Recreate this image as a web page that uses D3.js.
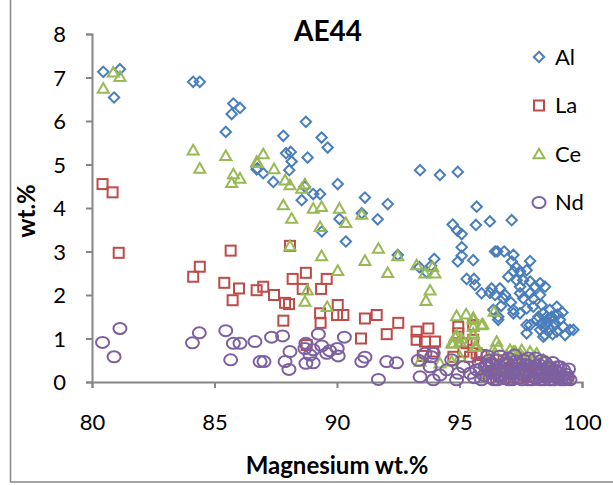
<!DOCTYPE html>
<html>
<head>
<meta charset="utf-8">
<script src="https://cdn.jsdelivr.net/npm/d3@7"></script>
<style>
  html, body { margin: 0; padding: 0; background: #fff; }
  svg { display: block; }
</style>
</head>
<body>
<svg id="chart" width="613" height="485"></svg>
<script>
// ---- Data (Magnesium wt.%, element wt.%) ----
const chartTitle = "AE44";
const xTicks = [80, 85, 90, 95, 100];
const yTicks = [0, 1, 2, 3, 4, 5, 6, 7, 8];
const seriesNames = ["Al", "La", "Ce", "Nd"];

const alData = [
  [80.46,7.13],[81.14,7.19],[80.9,6.54],[84.13,6.9],[84.4,6.9],[85.77,6.4],[86.04,6.3],[85.7,6.16],
  [85.46,5.75],[86.72,4.89],[88.73,5.98],[87.81,5.66],[89.37,5.62],[89.62,5.39],[87.92,5.26],[88.11,5.29],
  [88.8,5.16],[88.15,5.07],[88.05,4.87],[86.75,4.91],[86.99,4.8],[87.4,4.6],[90.03,4.55],[88.69,4.49],
  [89.03,4.32],[89.31,4.32],[88.56,4.18],[91.14,4.24],[91.01,3.88],[90.1,3.75],[89.38,3.46],[90.36,3.23],
  [92.07,4.09],[91.66,3.74],[92.48,2.92],[93.39,4.87],[94.2,4.76],[94.93,4.83],[95.7,4.03],[94.72,3.62],
  [94.91,3.48],[95.09,3.4],[95.67,3.61],[95.09,3.1],[94.93,2.77],[95.56,2.8],[95.29,2.37],[95.59,2.37],
  [93.97,2.83],[93.66,2.52],[93.84,2.67],[93.36,2.64],[96.24,3.69],[97.13,3.72],[95.09,2.9],[96.45,3.0],
  [96.54,3.0],[96.82,3.0],[97.2,2.92],[97.13,2.77],[97.88,2.78],[97.31,2.64],[97.47,2.54],[97.2,2.54],
  [96.99,2.42],[97.74,2.57],[95.63,2.23],[97.33,2.34],[97.6,2.34],[97.47,2.19],[97.88,2.31],[98.08,2.19],
  [98.29,2.27],[98.49,2.19],[95.9,2.04],[96.31,2.15],[96.65,2.15],[96.45,2.0],[96.86,2.0],[96.79,1.92],
  [97.47,2.04],[97.6,1.92],[97.88,2.04],[98.01,1.92],[98.29,2.0],[96.38,1.66],[97.2,1.66],[97.47,1.58],
  [96.58,1.5],[97.74,1.69],[98.01,1.73],[98.35,1.77],[98.97,1.73],[97.74,1.31],[98.15,1.43],[98.42,1.58],
  [98.56,1.35],[98.76,1.5],[99.1,1.43],[99.24,1.27],[99.51,1.2],[99.31,1.08],[98.83,1.27],[98.49,1.08],
  [98.29,1.2],[98.69,1.2],[98.97,1.16],[98.56,1.5],[98.35,1.35],[98.69,1.66],[98.22,1.5],[99.65,1.2],
  [97.88,1.31],[98.42,1.04],[97.74,1.12],[98.6,1.4],[98.9,1.35],[98.7,1.45],[99.0,1.55],[98.45,1.25],
  [98.8,1.1],[99.2,1.6],[97.1,1.83],[96.7,1.75],[96.24,2.05],[96.58,1.43],[97.2,1.58]
];

const laData = [
  [80.43,4.55],[80.84,4.36],[81.09,2.97],[84.13,2.42],[84.4,2.65],[85.66,3.02],[85.4,2.28],[86.0,2.15],
  [85.74,1.88],[86.72,2.11],[88.08,3.13],[86.99,2.19],[87.43,2.0],[88.19,2.37],[88.73,2.51],[89.58,2.37],
  [88.6,2.14],[89.35,2.14],[87.88,1.82],[88.04,1.79],[90.03,1.77],[89.31,1.58],[89.33,1.36],[90.26,1.54],
  [90.0,1.54],[87.81,1.41],[91.14,1.46],[90.98,1.0],[88.76,0.85],[91.62,1.54],[92.5,1.36],[92.03,1.1],
  [93.25,1.16],[93.73,1.23],[93.25,0.97],[94.0,0.93],[93.59,0.93],[93.93,0.7],[94.95,1.27],[95.56,1.31],
  [94.95,1.12],[95.29,0.89],[95.56,0.97],[94.75,0.58],[95.16,0.7],[95.43,0.58],[95.7,0.66],[95.9,0.62],
  [93.5,0.6],[98.69,0.28],[99.44,0.08],[96.2,0.45],[96.5,0.35],[96.8,0.5],[97.0,0.3],[97.3,0.4],
  [97.6,0.2],[97.9,0.35],[98.2,0.25],[98.5,0.15],[98.8,0.2],[99.1,0.1],[99.3,0.05],[96.1,0.2],
  [96.6,0.15],[97.2,0.1],[97.8,0.12],[98.3,0.05]
];

const ceData = [
  [80.46,6.75],[80.87,7.12],[81.14,7.02],[84.13,5.33],[84.4,4.91],[85.46,5.2],[85.77,4.78],[86.04,4.68],
  [85.7,4.58],[86.72,5.06],[86.99,5.24],[86.75,5.04],[87.43,4.9],[87.88,4.64],[88.08,4.53],[88.69,4.55],
  [88.56,4.45],[87.81,4.07],[89.03,3.99],[89.37,4.03],[90.1,3.99],[88.15,3.76],[90.36,3.66],[91.01,3.85],
  [89.31,3.57],[88.08,3.13],[89.37,2.9],[90.03,2.56],[91.14,2.79],[88.79,2.11],[88.69,1.85],[89.6,1.73],
  [91.69,3.07],[92.48,2.9],[92.07,2.51],[93.25,2.69],[93.59,2.5],[94.0,2.5],[93.8,2.11],[93.63,1.87],
  [93.9,2.65],[94.88,1.52],[95.27,1.56],[95.56,1.44],[94.82,1.04],[95.02,0.93],[95.56,1.12],[94.68,0.89],
  [95.7,0.81],[94.2,0.43],[93.39,0.47],[96.41,1.62],[95.56,1.48],[95.9,1.31],[95.56,1.27],[94.88,1.08],
  [95.09,1.0],[95.56,1.08],[94.75,0.89],[95.63,0.81],[96.52,0.93],[96.58,0.81],[96.38,0.74],[97.06,0.74],
  [97.27,0.7],[97.47,0.66],[97.88,0.7],[98.15,0.66],[98.42,0.51],[95.02,0.58],[94.68,0.47],[95.95,1.33],
  [97.2,0.7],[97.54,0.74],[96.2,0.55],[96.9,0.6],[97.6,0.55],[98.0,0.5],[98.6,0.45],[98.9,0.3],
  [99.2,0.2],[96.7,0.35],[97.4,0.3],[98.3,0.25],[97.9,0.15],[99.4,0.1],[96.0,0.2]
];

const ndData = [
  [80.43,0.91],[81.14,1.23],[80.9,0.58],[84.1,0.9],[84.38,1.13],[85.46,1.18],[85.77,0.89],[86.04,0.89],
  [85.66,0.51],[86.65,0.93],[86.86,0.47],[87.33,1.03],[87.78,1.06],[89.24,1.1],[90.3,1.03],[88.73,0.89],
  [89.38,0.83],[88.08,0.7],[88.69,0.77],[89.58,0.66],[90.01,0.77],[87.02,0.47],[87.88,0.47],[88.73,0.43],
  [89.03,0.44],[88.04,0.29],[90.05,0.6],[91.01,0.47],[91.14,0.57],[92.03,0.47],[92.43,0.44],[91.69,0.06],
  [93.32,0.5],[93.59,0.66],[93.39,0.12],[93.93,0.05],[93.8,0.35],[93.86,0.58],[94.2,0.16],[94.68,0.51],
  [94.95,0.2],[94.88,0.05],[95.16,0.35],[95.43,0.2],[95.7,0.28],[94.48,0.28],[99.1,0.35],[99.51,0.05],
  [89.03,0.74],[89.7,0.72],[88.9,0.62],[95.8,0.45],[96.0,0.15],[96.1,0.4],[96.3,0.25],[96.4,0.05],
  [96.5,0.5],[96.6,0.3],[96.7,0.12],[96.8,0.42],[96.9,0.22],[97.0,0.05],[97.1,0.35],[97.2,0.18],
  [97.3,0.48],[97.4,0.08],[97.5,0.3],[97.6,0.15],[97.7,0.4],[97.8,0.05],[97.9,0.25],[98.0,0.12],
  [98.1,0.38],[98.2,0.2],[98.3,0.05],[98.4,0.3],[98.5,0.12],[98.6,0.22],[98.7,0.05],[98.8,0.15],
  [98.9,0.28],[99.0,0.08],[99.2,0.15],[99.3,0.05],[99.4,0.1],[95.9,0.05],[96.2,0.5],[97.0,0.55],
  [97.6,0.5],[98.1,0.55],[98.5,0.45],[96.45,0.2],[97.35,0.25],[98.65,0.35],[99.05,0.2],[93.93,0.66],
  [99.0,0.35],[95.6,0.1],[95.85,0.3],[96.05,0.35],[96.25,0.1],[96.35,0.42],[96.55,0.05],[96.75,0.25],
  [96.85,0.08],[96.95,0.45],[97.05,0.18],[97.15,0.05],[97.25,0.3],[97.45,0.42],[97.55,0.05],[97.65,0.28],
  [97.75,0.18],[97.85,0.38],[97.95,0.05],[98.05,0.28],[98.15,0.1],[98.25,0.4],[98.35,0.18],[98.45,0.05],
  [98.55,0.32],[98.75,0.25],[98.85,0.05],[98.95,0.15],[99.15,0.05],[99.25,0.28],[99.35,0.18],[99.45,0.3],
  [96.15,0.6],[96.65,0.6],[97.25,0.62],[97.8,0.55],[98.35,0.5],[98.8,0.45]
];

// ---- Rendering ----
const svg = d3.select("#chart");
const FONT = "Lato, 'Open Sans', sans-serif";
const axisColor = "#868686";
const colors = { Al: "#4a7ebb", La: "#be4b48", Ce: "#98b954", Nd: "#7d60a0" };

// outer frame
svg.append("rect")
  .attr("x", 10.5).attr("y", -2).attr("width", 610).attr("height", 484)
  .attr("fill", "none").attr("stroke", axisColor).attr("stroke-width", 1.5);

const x = d3.scaleLinear().domain([80, 100]).range([92, 582]);
const y = d3.scaleLinear().domain([0, 8]).range([382, 34]);

// axes
const yAxis = svg.append("g").attr("transform", "translate(92,0)")
  .call(d3.axisLeft(y).tickValues(yTicks).tickFormat(d3.format("d")).tickSizeOuter(0).tickSize(6).tickPadding(20));
const xAxis = svg.append("g").attr("transform", "translate(0,382)")
  .call(d3.axisBottom(x).tickValues(xTicks).tickFormat(d3.format("d")).tickSizeOuter(0).tickSize(6).tickPadding(26));
[xAxis, yAxis].forEach(g => {
  g.selectAll("path.domain").attr("stroke", axisColor).attr("stroke-width", 2);
  g.selectAll(".tick line").attr("stroke", axisColor).attr("stroke-width", 2);
  g.selectAll(".tick text").attr("fill", "#000").style("font-family", FONT).style("font-size", "22px");
});
yAxis.selectAll(".tick text").attr("dy", "0.36em");

// symbols
function drawMarker(g, type, color) {
  if (type === "Al") {
    g.append("path").attr("d", "M0,-5.2 L5.2,0 L0,5.2 L-5.2,0 Z");
  } else if (type === "La") {
    g.append("rect").attr("x", -5).attr("y", -5).attr("width", 10).attr("height", 10);
  } else if (type === "Ce") {
    g.append("path").attr("d", "M0,-5.3 L5.5,4.3 L-5.5,4.3 Z");
  } else {
    g.append("ellipse").attr("rx", 6.5).attr("ry", 5.5);
  }
  g.selectAll("*").attr("fill", "none").attr("stroke", color).attr("stroke-width", 2);
}

const allSeries = [
  { name: "Al", data: alData },
  { name: "La", data: laData },
  { name: "Ce", data: ceData },
  { name: "Nd", data: ndData }
];

allSeries.forEach(s => {
  const layer = svg.append("g").attr("class", "series-" + s.name);
  layer.selectAll("g.pt").data(s.data).enter().append("g")
    .attr("class", "pt")
    .attr("transform", d => `translate(${x(d[0])},${y(d[1])})`)
    .each(function() { drawMarker(d3.select(this), s.name, colors[s.name]); });
});

// title
svg.append("text").attr("x", 328).attr("y", 41).attr("text-anchor", "middle")
  .style("font-family", FONT).style("font-weight", "bold").style("font-size", "28px")
  .text(chartTitle);

// axis titles
svg.append("text").attr("x", 337).attr("y", 474).attr("text-anchor", "middle")
  .style("font-family", FONT).style("font-weight", "bold").style("font-size", "24px")
  .text("Magnesium wt.%");
svg.append("text").attr("transform", "translate(35,211) rotate(-90)").attr("text-anchor", "middle")
  .style("font-family", FONT).style("font-weight", "bold").style("font-size", "24px")
  .text("wt.%");

// legend
const legend = svg.append("g");
seriesNames.forEach((n, i) => {
  const ly = 57 + i * 48.5;
  const g = legend.append("g").attr("transform", `translate(539,${ly})`);
  drawMarker(g, n, colors[n]);
  legend.append("text").attr("x", 555).attr("y", ly).attr("dy", "0.36em")
    .style("font-family", FONT).style("font-size", "22px").attr("fill", "#000").text(n);
});
</script>
</body>
</html>
